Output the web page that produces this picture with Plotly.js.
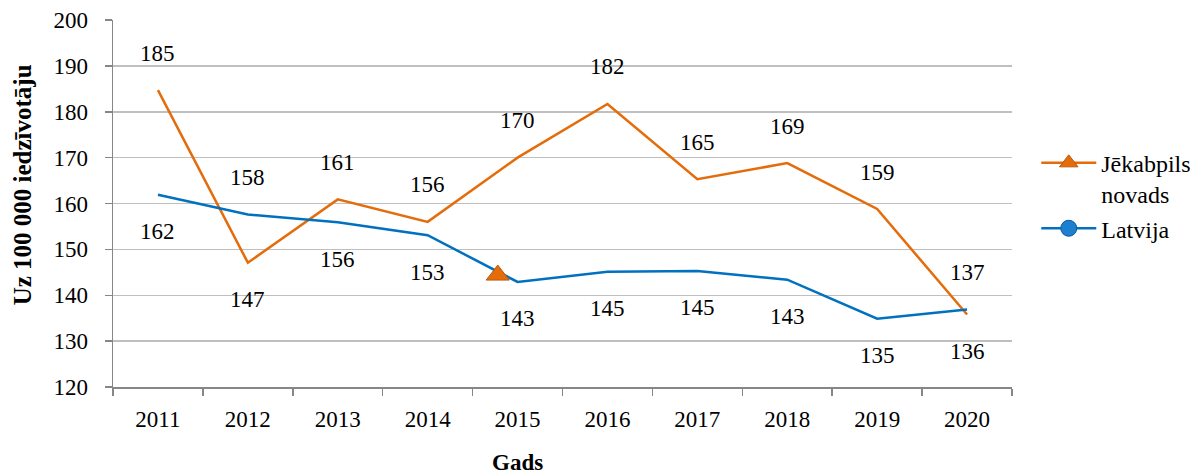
<!DOCTYPE html>
<html>
<head>
<meta charset="utf-8">
<script src="https://cdn.plot.ly/plotly-3.0.1.min.js"></script>
<style>html,body{margin:0;padding:0;background:#fff;}#chart{width:1200px;height:474px;}</style>
</head>
<body>
<div id="chart"></div>
<script>
const years = ['2011','2012','2013','2014','2015','2016','2017','2018','2019','2020'];
const jekabpils = [184.7, 147.1, 160.9, 156.0, 170.0, 181.7, 165.3, 168.8, 158.8, 135.8];
const latvija = [161.9, 157.6, 155.9, 153.1, 142.9, 145.1, 145.3, 143.4, 134.9, 136.9];
const jekabpilsLabelSide = ['above','below','above','above','above','above','above','above','above','below'];
const latvijaLabelSide = ['below','above','below','below','below','below','below','below','below','above'];
// stray triangle marker seen in the picture (category index position, value)
const strayMarkerX = [3.78];
const strayMarkerY = [144.4];

const orange = '#E46C0A';
const blue = '#0070C0';
const serif = 'Liberation Serif';
const idx = years.map((_, i) => i);

const traces = [
  {x: idx, y: jekabpils, type: 'scatter', mode: 'lines', line: {color: orange, width: 2.5}, showlegend: false},
  {x: idx, y: latvija, type: 'scatter', mode: 'lines', line: {color: blue, width: 2.5}, showlegend: false},
  {x: strayMarkerX, y: strayMarkerY, type: 'scatter', mode: 'lines+markers', name: 'Jēkabpils<br>novads',
   line: {color: orange, width: 2.5}, marker: {symbol: 'triangle-up', size: 20, color: orange, line: {color: '#B85A10', width: 1}}},
  {x: [null], y: [null], type: 'scatter', mode: 'lines+markers', name: 'Latvija',
   line: {color: blue, width: 2.5}, marker: {symbol: 'circle', size: 18, color: '#1E7FD0', line: {color: '#0B5A9E', width: 1}}}
];

const annotations = [];
function addLabels(vals, sides) {
  vals.forEach((v, i) => {
    annotations.push({
      x: idx[i], y: v, xref: 'x', yref: 'y', text: String(Math.round(v)), showarrow: false,
      yshift: sides[i] === 'above' ? 37 : -37,
      font: {family: serif, size: 23, color: '#000'}
    });
  });
}
addLabels(jekabpils, jekabpilsLabelSide);
addLabels(latvija, latvijaLabelSide);

annotations.push({
  text: '<b>Uz 100 000 iedzīvotāju</b>', textangle: -90, showarrow: false,
  xref: 'paper', yref: 'paper', x: -0.101, y: 0.55, xanchor: 'center', yanchor: 'middle',
  font: {family: serif, size: 25, color: '#000'}
});
annotations.push({
  text: '<b>Gads</b>', showarrow: false,
  xref: 'paper', yref: 'paper', x: 0.4505, y: -0.2044, xanchor: 'center', yanchor: 'middle',
  font: {family: serif, size: 23, color: '#000'}
});

const layout = {
  width: 1200, height: 474,
  margin: {l: 113, r: 188, t: 20, b: 87, autoexpand: false},
  paper_bgcolor: '#fff', plot_bgcolor: '#fff',
  font: {family: serif, size: 23, color: '#000'},
  xaxis: {
    type: 'linear', range: [-0.5, 9.5], tickmode: 'array', tickvals: idx, ticktext: years, ticks: '',
    minor: {tickmode: 'linear', tick0: -0.5, dtick: 1, ticks: 'outside', ticklen: 7, tickcolor: '#868686', tickwidth: 1.5, showgrid: false},
    showline: true, linecolor: '#868686', linewidth: 1.5, showgrid: false, zeroline: false,
    ticklabelstandoff: 11,
    tickfont: {family: serif, size: 23, color: '#000'}
  },
  yaxis: {
    range: [120, 200], dtick: 10, ticks: 'outside', ticklen: 7, tickcolor: '#868686', tickwidth: 1.5,
    showline: true, linecolor: '#868686', linewidth: 1.5, gridcolor: '#BFBFBF', gridwidth: 1.5, zeroline: false,
    ticklabelstandoff: 12,
    tickfont: {family: serif, size: 23, color: '#000'}
  },
  legend: {
    x: 1.027, xanchor: 'left', y: 0.671, yanchor: 'top', valign: 'top', itemwidth: 55,
    font: {family: serif, size: 24, color: '#000'}, bgcolor: 'rgba(0,0,0,0)'
  },
  annotations: annotations,
  showlegend: true
};

Plotly.newPlot('chart', traces, layout, {displayModeBar: false, staticPlot: true});
</script>
</body>
</html>
